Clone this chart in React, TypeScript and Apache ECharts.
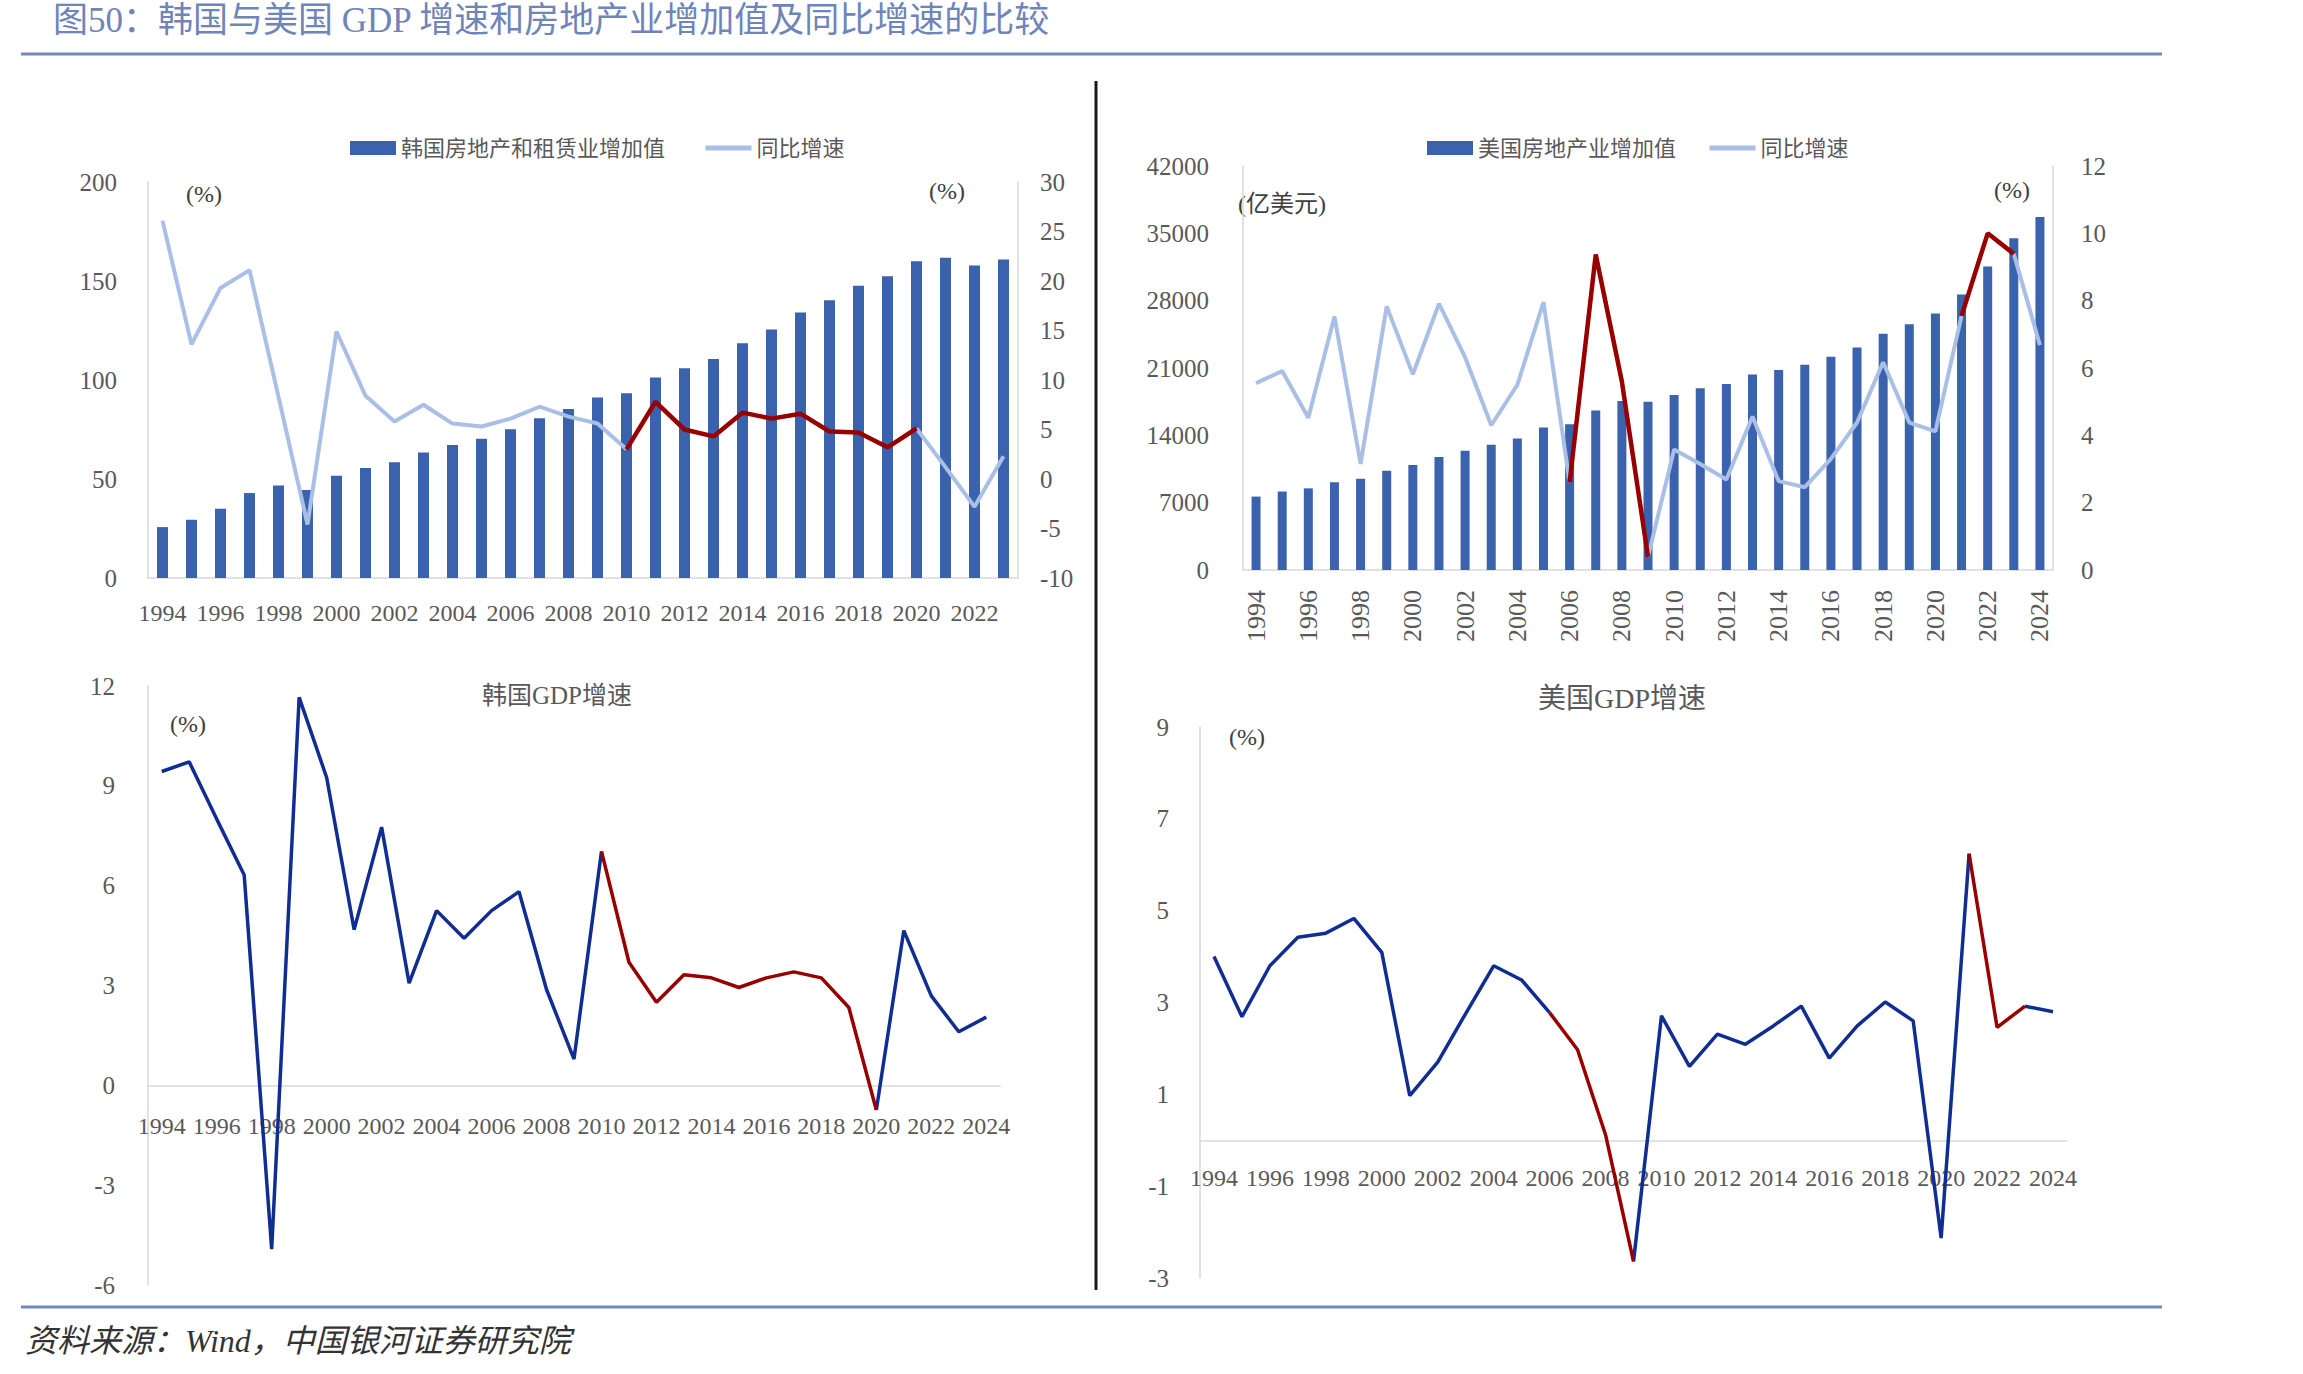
import React, { useEffect, useRef } from "react";
import * as echarts from "echarts";

// Category labels
const krReYears = [
  "1994", "1995", "1996", "1997", "1998", "1999", "2000", "2001", "2002", "2003",
  "2004", "2005", "2006", "2007", "2008", "2009", "2010", "2011", "2012", "2013",
  "2014", "2015", "2016", "2017", "2018", "2019", "2020", "2021", "2022", "2023",
];
const fullYears = [
  "1994", "1995", "1996", "1997", "1998", "1999", "2000", "2001", "2002", "2003",
  "2004", "2005", "2006", "2007", "2008", "2009", "2010", "2011", "2012", "2013",
  "2014", "2015", "2016", "2017", "2018", "2019", "2020", "2021", "2022", "2023", "2024",
];

// Korea: real estate & leasing value added, and its YoY growth (%)
const krRealEstateValue = [
  25.7, 29.4, 35.0, 42.9, 46.7, 44.5, 51.6, 55.5, 58.5, 63.4,
  67.2, 70.3, 75.1, 80.7, 85.4, 91.1, 93.3, 101.2, 105.9, 110.6,
  118.5, 125.5, 134.1, 140.3, 147.6, 152.4, 160.0, 161.8, 157.8, 160.8,
];
const krRealEstateYoY = [
  26.1, 13.6, 19.3, 21.1, 8.3, -4.6, 14.9, 8.4, 5.8, 7.5,
  5.6, 5.3, 6.1, 7.3, 6.3, 5.6, 3.0, 7.8, 5.0, 4.3,
  6.7, 6.1, 6.6, 4.8, 4.7, 3.2, 5.1, 1.2, -2.8, 2.3,
];

// US: real estate value added (100 million USD), and its YoY growth (%)
const usRealEstateValue = [
  7630, 8160, 8490, 9130, 9490, 10310, 10920, 11740, 12390, 13030,
  13680, 14820, 15140, 16580, 17580, 17500, 18190, 18900, 19330, 20330,
  20800, 21340, 22160, 23130, 24560, 25560, 26670, 28640, 31540, 34480, 36700,
];
const usRealEstateYoY = [
  5.55, 5.91, 4.52, 7.53, 3.15, 7.83, 5.81, 7.91, 6.32, 4.30,
  5.50, 7.96, 2.60, 9.37, 5.60, 0.39, 3.58, 3.15, 2.69, 4.56,
  2.64, 2.46, 3.30, 4.38, 6.17, 4.38, 4.12, 7.55, 10.0, 9.39, 6.68,
];

// Real GDP growth (%)
const krGdpGrowth = [
  9.43, 9.72, 8.0, 6.32, -4.92, 11.66, 9.25, 4.68, 7.76, 3.07,
  5.25, 4.42, 5.25, 5.82, 2.88, 0.79, 7.03, 3.70, 2.50, 3.32,
  3.23, 2.94, 3.23, 3.41, 3.23, 2.34, -0.74, 4.65, 2.69, 1.61, 2.05,
];
const usGdpGrowth = [
  4.0, 2.69, 3.80, 4.42, 4.51, 4.83, 4.09, 0.97, 1.70, 2.76,
  3.80, 3.49, 2.78, 1.97, 0.12, -2.64, 2.71, 1.61, 2.31, 2.09,
  2.49, 2.92, 1.79, 2.49, 3.01, 2.60, -2.13, 6.24, 2.46, 2.92, 2.80,
];

// Highlighted periods, as [startIndex, endIndex] pairs
const krHighlight: [number, number][] = [[16, 26]];
const usReHighlight: [number, number][] = [[12, 15], [27, 29]];
const krGdpHighlight: [number, number][] = [[16, 26]];
const usGdpHighlight: [number, number][] = [[12, 15], [27, 29]];

const inRanges = (i: number, ranges: [number, number][]) =>
  ranges.some(([a, b]) => i >= a && i <= b);
const strictlyInside = (i: number, ranges: [number, number][]) =>
  ranges.some(([a, b]) => i > a && i < b);
const onlyRanges = (arr: number[], ranges: [number, number][]) =>
  arr.map((v, i) => (inRanges(i, ranges) ? v : null));
const exceptRanges = (arr: number[], ranges: [number, number][]) =>
  arr.map((v, i) => (strictlyInside(i, ranges) ? null : v));

const SERIF = '"Liberation Serif", "Times New Roman", "Noto Sans CJK SC", serif';
const LABEL = "#595959";
const AXIS_LINE = "#d9d9d9";
const BAR = "#3A62AD";
const LIGHT = "#A9BFE6";
const RED = "#980000";
const NAVY = "#102E92";

const valueAxisBase = {
  type: "value" as const,
  splitLine: { show: false },
  axisTick: { show: false },
  axisLine: { show: true, lineStyle: { color: AXIS_LINE, width: 1.5 } },
  axisLabel: { color: LABEL, fontFamily: SERIF, fontSize: 25, formatter: (v: number) => String(v) },
};

const lineLegendItem = {
  name: "同比增速",
  itemStyle: { opacity: 0 },
  lineStyle: { width: 5, color: LIGHT },
};

function buildOption() {
  return {
    animation: false,
    backgroundColor: "#ffffff",
    textStyle: { fontFamily: SERIF },
    legend: [
      {
        left: 345,
        top: 132,
        itemGap: 38,
        itemWidth: 46,
        itemHeight: 14,
        textStyle: { fontSize: 22, color: LABEL, fontFamily: SERIF },
        data: [{ name: "韩国房地产和租赁业增加值", icon: "rect" }, lineLegendItem],
      },
      {
        left: 1422,
        top: 132,
        itemGap: 31,
        itemWidth: 46,
        itemHeight: 14,
        textStyle: { fontSize: 22, color: LABEL, fontFamily: SERIF },
        data: [{ name: "美国房地产业增加值", icon: "rect" }, lineLegendItem],
      },
    ],
    title: [
      {
        text: "韩国GDP增速",
        left: 552,
        top: 678,
        textAlign: "center",
        textStyle: { fontSize: 25, fontWeight: "normal", color: LABEL, fontFamily: SERIF },
      },
      {
        text: "美国GDP增速",
        left: 1617,
        top: 679,
        textAlign: "center",
        textStyle: { fontSize: 28, fontWeight: "normal", color: LABEL, fontFamily: SERIF },
      },
    ],
    grid: [
      { left: 148, top: 182, width: 870, height: 396 },
      { left: 1243, top: 166, width: 810, height: 404 },
      { left: 148, top: 686, width: 852, height: 599 },
      { left: 1200, top: 727, width: 867, height: 551 },
    ],
    xAxis: [
      {
        type: "category",
        gridIndex: 0,
        data: krReYears,
        axisTick: { show: false },
        axisLine: { lineStyle: { color: AXIS_LINE, width: 1.5 } },
        axisLabel: { interval: 1, color: LABEL, fontFamily: SERIF, fontSize: 24, margin: 23 },
      },
      {
        type: "category",
        gridIndex: 1,
        data: fullYears,
        axisTick: { show: false },
        axisLine: { lineStyle: { color: AXIS_LINE, width: 1.5 } },
        axisLabel: { interval: 1, rotate: 90, color: LABEL, fontFamily: SERIF, fontSize: 26, margin: 20 },
      },
      {
        // zero line drawn on the axis; year labels sit just under it, above the grid bottom
        type: "category",
        gridIndex: 2,
        data: fullYears,
        axisTick: { show: false },
        axisLine: { onZero: true, lineStyle: { color: AXIS_LINE, width: 1.5 } },
        axisLabel: { interval: 1, color: LABEL, fontFamily: SERIF, fontSize: 24, margin: -171 },
      },
      {
        type: "category",
        gridIndex: 3,
        data: fullYears,
        axisTick: { show: false },
        axisLine: { onZero: true, lineStyle: { color: AXIS_LINE, width: 1.5 } },
        axisLabel: { interval: 1, color: LABEL, fontFamily: SERIF, fontSize: 24, margin: -112 },
      },
    ],
    yAxis: [
      { ...valueAxisBase, gridIndex: 0, position: "left", min: 0, max: 200, interval: 50,
        axisLabel: { ...valueAxisBase.axisLabel, margin: 31 } },
      { ...valueAxisBase, gridIndex: 0, position: "right", min: -10, max: 30, interval: 5,
        axisLabel: { ...valueAxisBase.axisLabel, margin: 22 } },
      { ...valueAxisBase, gridIndex: 1, position: "left", min: 0, max: 42000, interval: 7000,
        axisLabel: { ...valueAxisBase.axisLabel, margin: 34 } },
      { ...valueAxisBase, gridIndex: 1, position: "right", min: 0, max: 12, interval: 2,
        axisLabel: { ...valueAxisBase.axisLabel, margin: 28 } },
      { ...valueAxisBase, gridIndex: 2, position: "left", min: -6, max: 12, interval: 3,
        axisLabel: { ...valueAxisBase.axisLabel, margin: 33 } },
      // US GDP: data axis from -3 to 9, labels come from the companion axis below
      { ...valueAxisBase, gridIndex: 3, position: "left", min: -3, max: 9, axisLabel: { show: false } },
      {
        ...valueAxisBase,
        gridIndex: 3,
        position: "left",
        offset: 0,
        min: 0,
        max: 12,
        interval: 2,
        axisLine: { show: false },
        axisLabel: {
          ...valueAxisBase.axisLabel,
          margin: 31,
          formatter: (v: number) => String(v - 3),
        },
      },
    ],
    series: [
      {
        name: "韩国房地产和租赁业增加值",
        type: "bar",
        xAxisIndex: 0,
        yAxisIndex: 0,
        barWidth: 11,
        itemStyle: { color: BAR },
        data: krRealEstateValue,
      },
      {
        name: "同比增速",
        type: "line",
        xAxisIndex: 0,
        yAxisIndex: 1,
        symbol: "none",
        lineStyle: { color: LIGHT, width: 4 },
        itemStyle: { color: LIGHT },
        data: exceptRanges(krRealEstateYoY, krHighlight),
        z: 3,
      },
      {
        name: "韩国同比增速区间",
        type: "line",
        xAxisIndex: 0,
        yAxisIndex: 1,
        symbol: "none",
        lineStyle: { color: RED, width: 4.5 },
        itemStyle: { color: RED },
        data: onlyRanges(krRealEstateYoY, krHighlight),
        z: 4,
      },
      {
        name: "美国房地产业增加值",
        type: "bar",
        xAxisIndex: 1,
        yAxisIndex: 2,
        barWidth: 9,
        itemStyle: { color: BAR },
        data: usRealEstateValue,
      },
      {
        name: "同比增速",
        type: "line",
        xAxisIndex: 1,
        yAxisIndex: 3,
        symbol: "none",
        lineStyle: { color: LIGHT, width: 4 },
        itemStyle: { color: LIGHT },
        data: exceptRanges(usRealEstateYoY, usReHighlight),
        z: 3,
      },
      {
        name: "美国同比增速区间",
        type: "line",
        xAxisIndex: 1,
        yAxisIndex: 3,
        symbol: "none",
        lineStyle: { color: RED, width: 4.5 },
        itemStyle: { color: RED },
        data: onlyRanges(usRealEstateYoY, usReHighlight),
        z: 4,
      },
      {
        name: "韩国GDP增速",
        type: "line",
        xAxisIndex: 2,
        yAxisIndex: 4,
        symbol: "none",
        lineStyle: { color: NAVY, width: 3.5 },
        itemStyle: { color: NAVY },
        data: exceptRanges(krGdpGrowth, krGdpHighlight),
        z: 3,
      },
      {
        name: "韩国GDP增速区间",
        type: "line",
        xAxisIndex: 2,
        yAxisIndex: 4,
        symbol: "none",
        lineStyle: { color: RED, width: 3.5 },
        itemStyle: { color: RED },
        data: onlyRanges(krGdpGrowth, krGdpHighlight),
        z: 4,
      },
      {
        name: "美国GDP增速",
        type: "line",
        xAxisIndex: 3,
        yAxisIndex: 5,
        symbol: "none",
        lineStyle: { color: NAVY, width: 3.5 },
        itemStyle: { color: NAVY },
        data: exceptRanges(usGdpGrowth, usGdpHighlight),
        z: 3,
      },
      {
        name: "美国GDP增速区间",
        type: "line",
        xAxisIndex: 3,
        yAxisIndex: 5,
        symbol: "none",
        lineStyle: { color: RED, width: 3.5 },
        itemStyle: { color: RED },
        data: onlyRanges(usGdpGrowth, usGdpHighlight),
        z: 4,
      },
    ],
    graphic: [
      {
        type: "text",
        x: 53,
        y: 20,
        style: {
          text: "图50：韩国与美国 GDP 增速和房地产业增加值及同比增速的比较",
          fontSize: 35,
          fontFamily: SERIF,
          fill: "#6F84B9",
          verticalAlign: "middle",
          textVerticalAlign: "middle",
        },
      },
      {
        type: "line",
        shape: { x1: 21, y1: 54, x2: 2162, y2: 54 },
        style: { stroke: "#7189C0", lineWidth: 3 },
      },
      {
        type: "line",
        shape: { x1: 1096, y1: 81, x2: 1096, y2: 1290 },
        style: { stroke: "#1a1a1a", lineWidth: 3 },
      },
      {
        type: "line",
        shape: { x1: 21, y1: 1307, x2: 2162, y2: 1307 },
        style: { stroke: "#7189C0", lineWidth: 3 },
      },
      {
        type: "text",
        x: 25,
        y: 1341,
        style: {
          text: "资料来源：Wind，中国银河证券研究院",
          fontSize: 32,
          fontStyle: "italic",
          fontFamily: SERIF,
          fill: "#333333",
          verticalAlign: "middle",
          textVerticalAlign: "middle",
        },
      },
      ...[
        { text: "(%)", x: 204, y: 194 },
        { text: "(%)", x: 947, y: 191 },
        { text: "(亿美元)", x: 1282, y: 204 },
        { text: "(%)", x: 2012, y: 190 },
        { text: "(%)", x: 188, y: 724 },
        { text: "(%)", x: 1247, y: 737 },
      ].map((t) => ({
        type: "text",
        x: t.x,
        y: t.y,
        style: {
          text: t.text,
          fontSize: 24,
          fontFamily: SERIF,
          fill: "#404040",
          align: "center",
          textAlign: "center",
          verticalAlign: "middle",
          textVerticalAlign: "middle",
        },
      })),
    ],
  };
}

export default function App() {
  const ref = useRef<HTMLDivElement>(null);
  useEffect(() => {
    if (!ref.current) return;
    const chart = echarts.init(ref.current, undefined, { renderer: "svg" });
    chart.setOption(buildOption() as any);
    return () => chart.dispose();
  }, []);
  return (
    <div
      ref={ref}
      style={{ position: "absolute", left: 0, top: 0, width: 2303, height: 1374, background: "#fff" }}
    />
  );
}
